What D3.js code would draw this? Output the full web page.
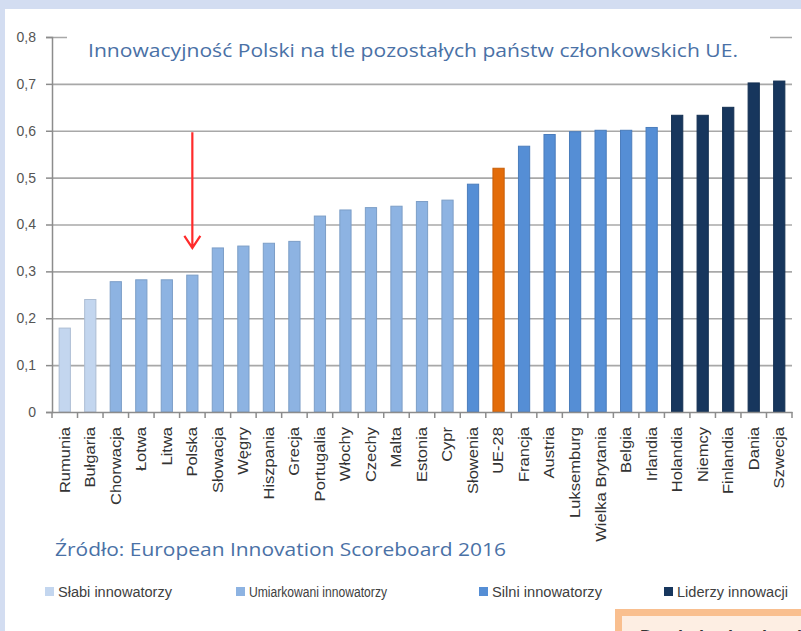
<!DOCTYPE html>
<html lang="pl">
<head>
<meta charset="utf-8">
<title>Innowacyjność Polski</title>
<script src="https://cdn.jsdelivr.net/npm/d3@7"></script>
<style>
  body { margin: 0; background: #fff; }
  svg { display: block; }
</style>
</head>
<body>
<script>

var countries = ["Rumunia", "Bułgaria", "Chorwacja", "Łotwa", "Litwa", "Polska", "Słowacja",
                 "Węgry", "Hiszpania", "Grecja", "Portugalia", "Włochy", "Czechy", "Malta",
                 "Estonia", "Cypr", "Słowenia", "UE-28", "Francja", "Austria", "Luksemburg",
                 "Wielka Brytania", "Belgia", "Irlandia", "Holandia", "Niemcy", "Finlandia",
                 "Dania", "Szwecja"];

var scores = [0.179, 0.240, 0.278, 0.282, 0.282, 0.292, 0.350,
              0.354, 0.360, 0.364, 0.418, 0.431, 0.436, 0.439,
              0.449, 0.452, 0.486, 0.520, 0.567, 0.592, 0.598,
              0.601, 0.601, 0.607, 0.633, 0.633, 0.650,
              0.702, 0.706];

var groups = ["slabi", "slabi", "umiark", "umiark", "umiark", "umiark", "umiark",
              "umiark", "umiark", "umiark", "umiark", "umiark", "umiark", "umiark",
              "umiark", "umiark", "silni", "ue", "silni", "silni", "silni",
              "silni", "silni", "silni", "liderzy", "liderzy", "liderzy",
              "liderzy", "liderzy"];

var legendKeys = ["slabi", "umiark", "silni", "liderzy"];
var legendNames = ["Słabi innowatorzy", "Umiarkowani innowatorzy", "Silni innowatorzy", "Liderzy innowacji"];

var yTicks = [0, 0.1, 0.2, 0.3, 0.4, 0.5, 0.6, 0.7, 0.8];

var title = "Innowacyjność Polski na tle pozostałych państw członkowskich UE.";
var source = "Źródło: European Innovation Scoreboard 2016";

var w = 801;
var h = 631;
var plotLeft = 52, plotRight = 792, plotTop = 37, plotBottom = 412;

var color = d3.scaleOrdinal()
    .domain(["slabi", "umiark", "silni", "liderzy", "ue"])
    .range(["#c3d6ef", "#8db3e2", "#558ed5", "#17365d", "#e36c0a"]);

var svg = d3.select("body")
    .append("svg")
    .attr("width", w)
    .attr("height", h);

// frame of the slide
svg.append("rect").attr("width", w).attr("height", h).attr("fill", "#d3ddf1");
svg.append("rect").attr("x", 5).attr("y", 9).attr("width", w - 5).attr("height", h - 9).attr("fill", "#fff");

var x = d3.scaleBand()
    .domain(countries)
    .range([plotLeft, plotRight])
    .paddingInner(0.56)
    .paddingOuter(0.28);

var y = d3.scaleLinear()
    .domain([0, 0.8])
    .range([plotBottom, plotTop]);

// gridlines
var grid = svg.append("g")
    .attr("transform", "translate(" + plotLeft + ",0)")
    .call(d3.axisLeft(y).tickValues(yTicks.slice(1)).tickSize(-(plotRight - plotLeft)).tickFormat(""));
grid.select(".domain").remove();
grid.selectAll("line").attr("stroke", "#a8a8a8").attr("stroke-width", 1.6);

// title box hides the top gridline
svg.append("rect")
    .attr("x", 67).attr("y", 24).attr("width", 703).attr("height", 42)
    .attr("fill", "#fff");

svg.append("text")
    .attr("x", 88)
    .attr("y", 57)
    .attr("font-family", "'Open Sans', sans-serif")
    .attr("font-size", "19px")
    .attr("fill", "#4a71a6")
    .attr("textLength", 650)
    .attr("lengthAdjust", "spacingAndGlyphs")
    .text(title);

// bars
svg.selectAll("rect.bar")
    .data(countries)
    .enter()
    .append("rect")
    .attr("class", "bar")
    .attr("x", function(d) { return x(d); })
    .attr("y", function(d, i) { return y(scores[i]); })
    .attr("width", x.bandwidth())
    .attr("height", function(d, i) { return plotBottom - y(scores[i]); })
    .attr("fill", function(d, i) { return color(groups[i]); })
    .attr("stroke", function(d, i) { return d3.color(color(groups[i])).darker(0.35); })
    .attr("stroke-width", 1);

// y axis
var yAxis = svg.append("g")
    .attr("transform", "translate(" + plotLeft + ",0)")
    .call(d3.axisLeft(y)
        .tickValues(yTicks)
        .tickSize(6)
        .tickPadding(10)
        .tickFormat(function(d) { return d === 0 ? "0" : d3.format(".1f")(d).replace(".", ","); }));
yAxis.select(".domain").attr("stroke", "#8c8c8c").attr("stroke-width", 1.5);
yAxis.selectAll("line").attr("stroke", "#8c8c8c").attr("stroke-width", 1.5);
yAxis.selectAll("text")
    .attr("font-family", "'Liberation Sans', Arial, sans-serif")
    .attr("font-size", "14px")
    .attr("fill", "#555");

// x axis
var xAxis = svg.append("g")
    .attr("transform", "translate(0," + plotBottom + ")")
    .call(d3.axisBottom(x).tickSize(0).tickSizeOuter(0));
xAxis.select(".domain").attr("stroke", "#8c8c8c").attr("stroke-width", 1.5);
xAxis.selectAll("text")
    .attr("transform", "rotate(-90)")
    .attr("x", -15)
    .attr("y", 0)
    .attr("dy", "0.35em")
    .attr("text-anchor", "end")
    .attr("font-family", "'Liberation Sans', Arial, sans-serif")
    .attr("font-size", "14px")
    .attr("fill", "#333")
    .each(function() {
        var len = this.getComputedTextLength();
        d3.select(this).attr("textLength", len * 1.18).attr("lengthAdjust", "spacingAndGlyphs");
    });

// ticks between the categories
xAxis.selectAll("line.sep")
    .data(d3.range(countries.length + 1))
    .enter()
    .append("line")
    .attr("class", "sep")
    .attr("x1", function(i) { return plotLeft + i * x.step(); })
    .attr("x2", function(i) { return plotLeft + i * x.step(); })
    .attr("y1", 0)
    .attr("y2", 6)
    .attr("stroke", "#8c8c8c")
    .attr("stroke-width", 1.5);

// red arrow pointing at Polska
var ax = x("Polska") + x.bandwidth() / 2;
var ay1 = y(0.597), ay2 = y(0.35);
svg.append("path")
    .attr("d", "M" + ax + "," + ay1 + "V" + ay2 + "M" + (ax - 8) + "," + (ay2 - 12) + "L" + ax + "," + ay2 + "L" + (ax + 8) + "," + (ay2 - 12))
    .attr("fill", "none")
    .attr("stroke", "#ff2b2b")
    .attr("stroke-width", 2.2);

// source
svg.append("text")
    .attr("x", 55)
    .attr("y", 556)
    .attr("font-family", "'Open Sans', sans-serif")
    .attr("font-size", "19px")
    .attr("fill", "#4a71a6")
    .attr("textLength", 451)
    .attr("lengthAdjust", "spacingAndGlyphs")
    .text(source);

// legend
var legendX = [45, 236, 479, 664];
var legendW = [114, 138, 110, 111];
var legend = svg.selectAll("g.legend")
    .data(legendKeys)
    .enter()
    .append("g")
    .attr("class", "legend")
    .attr("transform", function(d, i) { return "translate(" + legendX[i] + ",587)"; });
legend.append("rect")
    .attr("width", 9)
    .attr("height", 9)
    .attr("fill", function(d) { return color(d); });
legend.append("text")
    .attr("x", 13)
    .attr("y", 10)
    .attr("font-family", "'Liberation Sans', Arial, sans-serif")
    .attr("font-size", "14px")
    .attr("fill", "#404040")
    .attr("textLength", function(d, i) { return legendW[i]; })
    .attr("lengthAdjust", "spacingAndGlyphs")
    .text(function(d, i) { return legendNames[i]; });

// cut-off box in the corner
svg.append("rect")
    .attr("x", 618.5).attr("y", 612.5).attr("width", 220).attr("height", 40)
    .attr("fill", "#fdeee3")
    .attr("stroke", "#f9bf8f")
    .attr("stroke-width", 7);
svg.append("text")
    .attr("x", 640)
    .attr("y", 643)
    .attr("font-family", "'Liberation Sans', Arial, sans-serif")
    .attr("font-size", "18px")
    .attr("font-weight", "bold")
    .attr("fill", "#333")
    .text("Dowiedz się więcej");

</script>
</body>
</html>
